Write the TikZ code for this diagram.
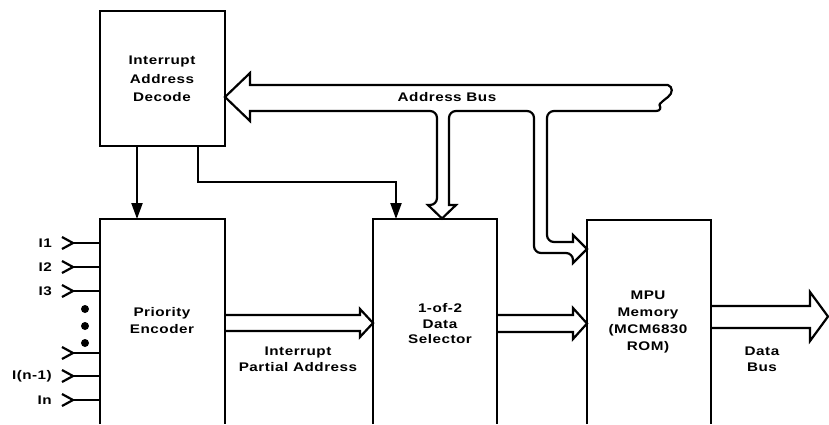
\documentclass[tikz,border=0pt]{standalone}
\usepackage{fontspec}
\setmainfont{Liberation Sans}[FakeStretch=1.22, LetterSpace=4]
\usetikzlibrary{arrows.meta}
\tikzset{
  ln/.style={line width=2.2pt, line join=miter},
  boxn/.style={inner sep=0pt, outer sep=0pt, draw=none},
  txt/.style={font=\fontsize{12.5}{17}\selectfont\bfseries, align=center, inner sep=0pt},
  arr/.style={ln, -{Triangle[length=16pt,width=11pt]}},
  chev/.style={ln},
}
\begin{document}
\begin{tikzpicture}[x=1pt,y=-1pt]
\useasboundingbox (0,0) rectangle (829,424);
% boxes
\node[boxn, minimum width=125pt, minimum height=135pt] (iad) at (162.5,78.5) {};
\node[boxn, minimum width=125pt, minimum height=205pt] (pe) at (162.5,321.5) {};
\node[boxn, minimum width=124pt, minimum height=205pt] (sel) at (435,321.5) {};
\node[boxn, minimum width=124pt, minimum height=204pt] (mem) at (649,322) {};
\draw[ln] (iad.south west) rectangle (iad.north east);
\draw[ln] (pe.south west) |- (pe.north east) -- (pe.south east);
\draw[ln] (sel.south west) |- (sel.north east) -- (sel.south east);
\draw[ln] (mem.south west) |- (mem.north east) -- (mem.south east);
% box texts
\node[txt, font=\fontsize{12.5}{18.5}\selectfont\bfseries] (tiad) at (162,79) {Interrupt\\Address\\Decode};
\node[txt] (tpe) at (162,321) {Priority\\Encoder};
\node[txt, font=\fontsize{12.5}{15.5}\selectfont\bfseries] (tsel) at (440,324) {1-of-2\\Data\\Selector};
\node[txt] (tmem) at (648,322) {MPU\\Memory\\(MCM6830\\ROM)};
% labels
\node[txt] (lab) at (447,97) {Address Bus};
\node[txt, font=\fontsize{12.5}{16}\selectfont\bfseries] (lipa) at (298,359) {Interrupt\\Partial Address};
\node[txt, font=\fontsize{12.5}{16}\selectfont\bfseries] (ldb) at (762,359) {Data\\Bus};
% thin arrows from decode
\draw[arr] ([xshift=-25.5pt]iad.south) -- ([xshift=-25.5pt]pe.north);
\draw[arr] ([xshift=35.5pt]iad.south) -- ++(0,36) -| ([xshift=-39pt]sel.north);
% inputs
\foreach \y/\t/\n in {243/I1/a,267/I2/b,291/I3/c,353//d,376/I(n-1)/e,400/In/f}{
  \coordinate (in\n) at (73,\y);
  \draw[chev] (62,\y-6) -- (in\n) -- (62,\y+6);
  \draw[ln] (in\n) -- (in\n -| pe.west);
  \node[txt, anchor=east] (l\n) at (52,\y) {\t};
}
\foreach \y/\n in {309/a,326/b,343/c}{
  \fill (85,\y) circle (4pt);
}
% fat arrow priority -> selector
\draw[ln] (225,315) -- (360,315) -- (360,309) -- (373,323) -- (360,337) -- (360,331) -- (225,331);
% fat arrow selector -> memory
\draw[ln] (497,315) -- (573,315) -- (573,308) -- (587,323.5) -- (573,339) -- (573,332) -- (497,332);
% data bus
\draw[ln] (711,306) -- (810,306) -- (810,292) -- (828,316.5) -- (810,341) -- (810,328) -- (711,328);
% address bus
\draw[ln] (668,85) -- (250,85) -- (250,73) -- (225,97) -- (250,121) -- (250,111)
  [rounded corners=7pt] -- (437,111) -- (437,205) [sharp corners] -- (428,205) -- (442,218.5) -- (456,205) -- (449,205)
  [rounded corners=7pt] -- (449,111) -- (534,111) -- (534,253) -- (573,253) [sharp corners] -- (573,263) -- (587,249) -- (573,235) -- (573,242)
  [rounded corners=7pt] -- (547,242) -- (547,111) -- (663,111) [sharp corners]
  .. controls (659,104) and (664,100) .. (668,97) .. controls (673,93) and (673,87) .. (668,85);
\end{tikzpicture}
\end{document}
